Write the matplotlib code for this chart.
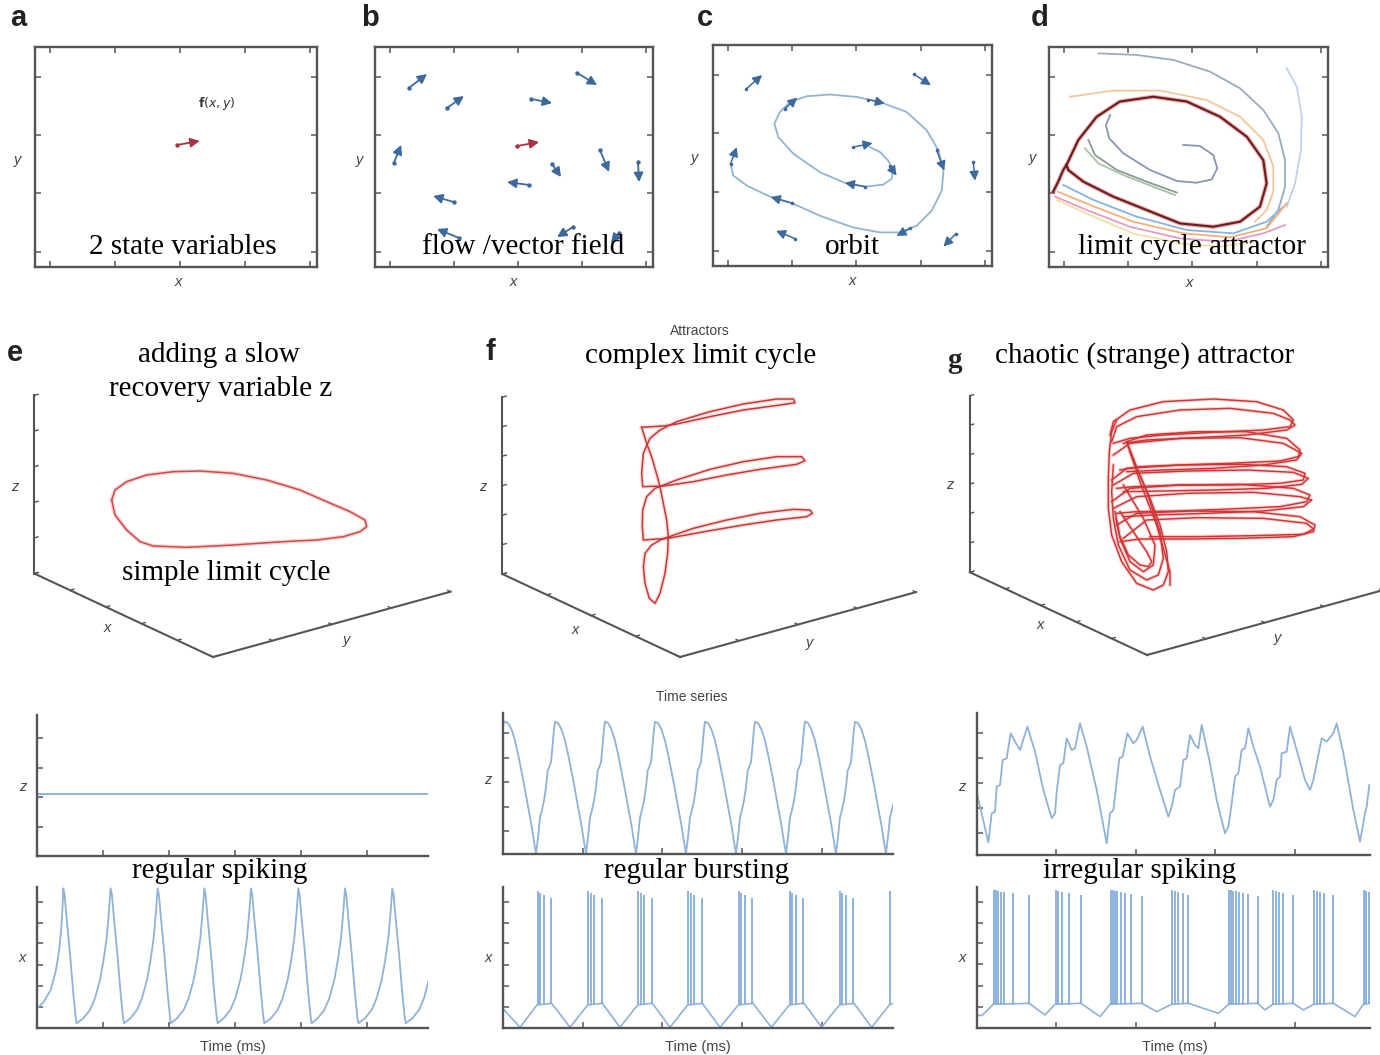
import numpy as np
import matplotlib
matplotlib.use('Agg')
import matplotlib.pyplot as plt

W, H = 1380, 1055
fig = plt.figure(figsize=(13.8, 10.55), dpi=100)

SERIF = 'Liberation Serif'
SANS = 'Liberation Sans'
AXC = '#555555'
TXT = '#444444'
BLUE_ARROW = '#3d6a9e'
RED_ARROW = '#a8323f'
TS_BLUE = '#8fb2d8'

# ======================= DATA =======================
# ---- panel a (phase plane, 0-100 units) ----
a_tail = (50.5, 55.5)
a_head = (58.4, 57.3)

# ---- panel b (vector field) ----
b_tail_x = [12.2, 25.9, 56.1, 72.7, 6.8, 63.7, 80.9, 94.6, 55.4, 28.4, 30.2, 71.2, 87.8]
b_tail_y = [81.4, 72.3, 76.4, 88.2, 47.3, 46.8, 53.2, 47.7, 37.3, 29.5, 13.2, 18.2, 15.5]
b_head_x = [18.7, 32.0, 63.7, 79.9, 9.4, 66.9, 84.2, 95.0, 47.5, 20.9, 22.3, 65.5, 84.9]
b_head_y = [87.7, 77.7, 74.5, 82.7, 55.5, 40.9, 43.2, 38.6, 38.6, 32.3, 17.3, 13.6, 10.9]
b_red_tail = (51.1, 55.0)
b_red_head = (59.0, 56.8)

# ---- panel c (orbit) ----
c_orbit_x = [56.3, 59.9, 62.8, 64.6, 64.0, 61.0, 54.5, 47.3, 38.4, 28.8, 23.4, 22.0, 24.0, 27.6,
             33.6, 41.9, 51.5, 59.9, 69.4, 76.6, 80.8, 82.6, 82.0, 78.4, 73.0, 67.0, 59.9, 50.3,
             38.4, 28.2, 20.4, 12.1, 7.3, 6.3]
c_orbit_y = [53.8, 51.5, 47.7, 43.2, 39.4, 36.8, 35.9, 37.6, 42.4, 50.8, 58.3, 64.4, 69.7, 74.2,
             76.8, 77.6, 76.5, 74.2, 69.7, 61.4, 52.3, 43.2, 34.1, 25.0, 18.2, 15.2, 15.2, 17.4,
             22.7, 28.5, 31.4, 36.4, 40.9, 46.2]
c_tail_x = [11.8, 72.0, 6.3, 93.3, 29.4, 87.1, 28.2, 54.5, 25.8, 55.7, 80.2, 70.6, 63.4, 50.3]
c_tail_y = [80.0, 86.8, 46.2, 47.0, 12.4, 14.7, 28.5, 35.9, 71.2, 75.3, 52.3, 17.0, 45.2, 53.8]
c_head_x = [17.6, 78.1, 8.5, 93.9, 22.6, 82.6, 20.7, 47.3, 30.2, 61.6, 82.9, 65.8, 65.8, 57.2]
c_head_y = [86.4, 81.8, 53.8, 38.6, 15.9, 8.8, 31.2, 37.6, 76.2, 73.5, 43.2, 13.6, 40.9, 55.6]

# ---- panel d (limit cycle attractor): trajectories ----
d_cycle_x = [1.5, 3.3, 5.1, 6.3, 10.5, 17.1, 25.4, 37.4, 49.4, 61.3, 70.9, 76.8, 78.0, 75.6, 68.5,
             58.9, 47.0, 35.0, 23.0, 12.3, 6.9, 6.3]
d_cycle_y = [34.2, 38.8, 44.1, 46.4, 57.7, 68.3, 75.2, 77.4, 75.2, 68.3, 59.2, 48.6, 38.0, 27.4, 20.6,
             18.3, 19.8, 25.9, 32.0, 38.8, 44.1, 46.4]
d_traj_x = [
    [48.1, 54.1, 58.9, 60.3, 58.3, 52.9, 45.8, 36.2, 26.6, 21.6, 20.4, 21.9],
    [14.1, 16.5, 24.3, 35.0, 45.8],
    [12.9, 17.7, 26.6, 37.4, 45.2],
    [17.7, 31.4, 44.6, 57.7, 68.5, 76.8, 82.2, 84.6, 84.6, 82.2, 78.0],
    [85.2, 88.8, 90.6, 90.3, 88.2, 85.2],
    [7.5, 23.0, 39.8, 56.5, 68.5, 76.8, 80.4, 80.4, 78.0, 73.8],
    [2.2, 13.5, 29.0, 47.0, 63.7, 76.8, 84.6],
    [5.1, 15.9, 31.4, 49.4, 66.1, 78.0, 84.0],
    [3.3, 14.7, 30.2, 48.1, 64.9, 78.0, 85.2],
    [2.8, 14.7, 30.2, 47.0, 61.3, 73.2],
]
d_traj_y = [
    [55.5, 55.0, 50.9, 44.8, 39.8, 38.3, 39.1, 44.1, 51.7, 58.5, 64.5, 69.1],
    [57.7, 50.9, 44.1, 38.8, 33.8],
    [53.9, 47.1, 41.8, 36.5, 32.7],
    [97.1, 96.4, 94.1, 88.8, 81.2, 71.4, 60.8, 48.6, 36.5, 25.9, 18.3],
    [90.3, 82.0, 68.3, 53.2, 38.0, 27.4],
    [77.4, 80.2, 80.2, 75.9, 68.3, 57.7, 45.6, 34.2, 25.9, 20.6],
    [32.0, 25.9, 18.3, 13.0, 11.5, 15.3, 19.1],
    [37.3, 30.5, 22.9, 16.8, 15.3, 20.6, 27.4],
    [34.2, 28.2, 20.6, 15.3, 13.5, 17.6, 29.0],
    [30.5, 23.6, 15.2, 10.8, 9.2, 11.5],
]
d_traj_colors = ['#8797b0', '#8c9a94', '#a9c2a6', '#9aabbf', '#bcd3ea', '#f2c79a',
                 '#e39ac6', '#86b3e2', '#f1b27a', '#efe0a2']

# ---- panel e (projected simple limit cycle) ----
e_cycle_x = [335, 345, 380, 440, 520, 600, 700, 800, 900, 980, 1050, 1095, 1100, 1080, 1030, 950,
             850, 700, 560, 460, 420, 380, 345, 335]
e_cycle_y = [510, 540, 565, 585, 595, 597, 590, 570, 540, 505, 475, 450, 430, 415, 400, 390,
             385, 375, 368, 372, 385, 420, 465, 510]

# ---- panel f (projected complex limit cycle) ----
f_cycle_x = [545, 560, 578, 592, 600, 610, 620, 625, 623, 615, 600, 585,
             568, 555, 550, 555, 575, 605,
             700, 800, 900, 1000, 1050, 1057, 1040, 950, 850, 750, 650, 625, 550,
             547, 548, 560, 585,
             650, 750, 850, 950, 1025, 1035, 1010, 900, 800, 700, 610, 548,
             545, 550, 570, 600,
             650, 750, 850, 950, 1000, 1005, 960, 850, 750, 650, 610, 545]
f_cycle_y = [728, 680, 630, 580, 550, 500, 450, 400, 350, 290, 230, 200,
             215, 260, 310, 350, 375, 392,
             425, 450, 470, 482, 480, 470, 460, 450, 435, 418, 400, 395, 390,
             430, 480, 520, 545,
             570, 602, 625, 640, 640, 628, 617, 602, 585, 565, 552, 550,
             590, 650, 695, 720,
             745, 775, 798, 813, 813, 802, 795, 780, 760, 738, 732, 728]

# ---- panel g (projected chaotic attractor): loops ----
g_loop_x = [
    [90, 100, 150, 250, 400, 530, 610, 640, 630, 550, 400, 250, 150, 100],
    [95, 110, 170, 300, 450, 580, 630, 645, 620, 500, 350, 200, 130],
    [140, 200, 350, 500, 620, 660, 655, 600, 450, 300, 180, 120],
    [100, 150, 300, 480, 610, 665, 650, 550, 400, 250, 140],
    [95, 140, 300, 480, 620, 675, 670, 600, 450, 300, 160, 110],
    [100, 160, 320, 500, 640, 685, 665, 560, 400, 250, 130],
    [95, 150, 300, 480, 640, 690, 680, 600, 450, 300, 170, 110],
    [100, 170, 320, 520, 660, 695, 670, 550, 380, 220, 130],
    [110, 170, 330, 520, 660, 705, 700, 640, 480, 320, 180, 120],
    [130, 200, 350, 550, 680, 700, 670, 520, 350, 210],
    [140, 175, 210, 240, 260, 265, 250, 220, 170, 125, 95, 85, 85, 88, 95, 110],
    [150, 200, 240, 250, 235, 200, 150, 115, 100, 95, 100],
    [130, 190, 225, 220, 190, 150, 120, 105],
    [120, 160, 200, 215, 205, 180, 145, 118, 108],
    [140, 180, 230, 270, 270],
]
g_loop_y = [
    [480, 520, 555, 580, 588, 580, 555, 525, 505, 495, 488, 480, 470, 455],
    [460, 505, 535, 555, 560, 545, 525, 510, 495, 480, 472, 465, 455],
    [460, 480, 490, 490, 470, 435, 415, 402, 395, 390, 385, 375],
    [420, 455, 470, 472, 455, 425, 405, 390, 380, 375, 370],
    [345, 380, 390, 392, 385, 365, 345, 335, 330, 330, 325, 320],
    [330, 365, 372, 375, 368, 350, 332, 320, 315, 312, 310],
    [280, 320, 330, 332, 320, 300, 280, 265, 258, 252, 250, 245],
    [260, 295, 305, 308, 295, 285, 265, 252, 245, 240, 235],
    [210, 245, 252, 250, 235, 210, 190, 175, 170, 168, 168, 160],
    [170, 225, 232, 230, 215, 198, 182, 178, 175, 175],
    [460, 370, 290, 210, 130, 70, 30, 15, 35, 100, 180, 260, 350, 430, 490, 525],
    [430, 310, 190, 110, 60, 45, 75, 150, 230, 310, 390],
    [330, 230, 150, 90, 70, 100, 170, 250],
    [250, 190, 130, 100, 85, 90, 120, 180, 230],
    [460, 340, 210, 70, 30],
]

# ---- time series, left column (regular spiking) ----
rs_t = [0, 20, 40, 55, 65, 72, 76, 78,
        82, 88, 98, 108, 115, 118, 138, 158, 173, 188, 198, 208, 215, 220,
        224, 230, 240, 250, 257, 260, 279, 299, 314, 329, 339, 349, 356, 361,
        365, 371, 381, 391, 398, 401, 419, 439, 454, 469, 479, 489, 496, 501,
        505, 511, 521, 531, 538, 541, 559, 579, 594, 609, 619, 629, 636, 641,
        645, 651, 661, 671, 678, 681, 701, 721, 736, 751, 761, 771, 778, 783,
        787, 793, 803, 813, 820, 823, 841, 861, 876, 891, 901, 911, 918, 923,
        927, 933, 943, 953, 960, 963, 983, 1003, 1018, 1033, 1043, 1053, 1060, 1065,
        1069, 1075, 1085, 1095, 1102, 1105, 1125, 1145, 1160, 1173]
rs_x = [60, 80, 115, 170, 230, 300, 370, 420,
        400, 330, 225, 105, 35, 15, 30, 55, 90, 145, 200, 270, 350, 420,
        400, 330, 225, 105, 35, 15, 30, 55, 90, 145, 200, 270, 350, 420,
        400, 330, 225, 105, 35, 15, 30, 55, 90, 145, 200, 270, 350, 420,
        400, 330, 225, 105, 35, 15, 30, 55, 90, 145, 200, 270, 350, 420,
        400, 330, 225, 105, 35, 15, 30, 55, 90, 145, 200, 270, 350, 420,
        400, 330, 225, 105, 35, 15, 30, 55, 90, 145, 200, 270, 350, 420,
        400, 330, 225, 105, 35, 15, 30, 55, 90, 145, 200, 270, 350, 420,
        400, 330, 225, 105, 35, 15, 30, 55, 90, 140]
rs_z_t = [0, 1173]
rs_z = [186, 186]

# ---- time series, middle column (regular bursting) ----
rb_z_t = [0, 7, 17, 27, 37, 47, 57, 67, 77, 87, 95, 100,
          106, 112, 117, 124, 130, 135, 140, 145, 150, 154, 157,
          167, 177, 187, 197, 207, 217, 227, 237, 245, 250,
          256, 262, 267, 274, 280, 285, 290, 295, 300, 304, 307,
          317, 327, 337, 347, 357, 367, 377, 387, 395, 400,
          406, 412, 417, 424, 430, 435, 440, 445, 450, 454, 457,
          467, 477, 487, 497, 507, 517, 527, 537, 545, 550,
          556, 562, 567, 574, 580, 585, 590, 595, 600, 604, 607,
          617, 627, 637, 647, 657, 667, 677, 687, 695, 700,
          706, 712, 717, 724, 730, 735, 740, 745, 750, 754, 757,
          767, 777, 787, 797, 807, 817, 827, 837, 845, 850,
          856, 862, 867, 874, 880, 885, 890, 895, 900, 904, 907,
          917, 927, 937, 947, 957, 967, 977, 987, 995, 1000,
          1006, 1012, 1017, 1024, 1030, 1035, 1040, 1045, 1050, 1054, 1057,
          1067, 1077, 1087, 1097, 1107, 1117, 1127, 1137, 1145, 1150,
          1156, 1162, 1167, 1172]
rb_z = [388, 397, 392, 372, 340, 295, 245, 192, 137, 82, 30, 2,
        50, 110, 128, 160, 200, 250, 262, 275, 330, 375, 397,
        392, 372, 340, 295, 245, 192, 137, 82, 30, 2,
        50, 110, 128, 160, 200, 250, 262, 275, 330, 375, 397,
        392, 372, 340, 295, 245, 192, 137, 82, 30, 2,
        50, 110, 128, 160, 200, 250, 262, 275, 330, 375, 397,
        392, 372, 340, 295, 245, 192, 137, 82, 30, 2,
        50, 110, 128, 160, 200, 250, 262, 275, 330, 375, 397,
        392, 372, 340, 295, 245, 192, 137, 82, 30, 2,
        50, 110, 128, 160, 200, 250, 262, 275, 330, 375, 397,
        392, 372, 340, 295, 245, 192, 137, 82, 30, 2,
        50, 110, 128, 160, 200, 250, 262, 275, 330, 375, 397,
        392, 372, 340, 295, 245, 192, 137, 82, 30, 2,
        50, 110, 128, 160, 200, 250, 262, 275, 330, 375, 397,
        392, 372, 340, 295, 245, 192, 137, 82, 30, 2,
        50, 110, 128, 150]
rb_slow_t = [0, 52, 103, 147, 202, 255, 299, 352, 405, 449, 502, 555, 599, 652, 707,
             751, 806, 860, 904, 957, 1010, 1054, 1107, 1160, 1172]
rb_slow_x = [60, 3, 70, 75, 3, 70, 75, 3, 70, 75, 3, 70, 75, 3, 70,
             75, 3, 70, 75, 3, 70, 75, 3, 70, 75]
rb_spike_t = [105, 112, 123, 145, 257, 264, 275, 297, 407, 414, 425, 447, 557, 564, 575, 597,
              709, 716, 727, 749, 862, 869, 880, 902, 1012, 1019, 1030, 1052, 1162]
rb_spike_x = [413, 407, 400, 390, 413, 407, 400, 390, 413, 407, 400, 390, 413, 407, 400, 390,
              413, 407, 400, 390, 413, 407, 400, 390, 413, 407, 400, 390, 413]

# ---- time series, right column (irregular spiking) ----
ir_z_t = [2, 35, 45, 55, 60, 70, 78, 90, 102, 115, 130, 152, 175, 200, 225, 235, 240, 250, 260,
          270, 285, 295, 310, 330, 360, 390, 400, 410, 428, 438, 452, 470, 480, 498, 520, 550,
          575, 585, 595, 610, 620, 630, 640, 655, 665, 675, 700, 720, 745, 755, 765, 775, 785,
          795, 805, 815, 830, 850, 880, 890, 900, 910, 915, 930, 940, 960, 985, 1000, 1010,
          1020, 1035, 1050, 1070, 1080, 1100, 1130, 1150, 1165, 1170, 1178]
ir_z = [180, 38, 125, 130, 205, 210, 285, 290, 365, 340, 315, 385, 310, 195, 110, 125, 190, 270,
        275, 350, 315, 320, 395, 325, 195, 35, 125, 135, 290, 295, 365, 335, 345, 385, 295, 195,
        115, 145, 195, 205, 285, 290, 360, 330, 320, 390, 275, 165, 65, 85, 155, 235, 245, 315,
        320, 380, 325, 265, 145, 165, 225, 235, 305, 310, 385, 315, 225, 195, 225, 275, 350,
        340, 365, 395, 305, 135, 40, 125, 145, 210]
ir_slow_t = [0, 15, 50, 157, 205, 235, 313, 370, 400, 495, 540, 585, 635, 725, 756, 843, 865,
             888, 950, 980, 1011, 1070, 1135, 1160, 1180]
ir_slow_x = [40, 38, 72, 75, 40, 72, 75, 35, 72, 75, 50, 72, 75, 45, 72, 75, 55, 72, 75, 55,
             72, 75, 35, 72, 75]
ir_spike_t = [53, 59, 65, 73, 83, 110, 157, 237, 244, 256, 278, 313,
              402, 408, 414, 422, 432, 445, 462, 495, 587, 595, 605, 618, 635,
              758, 763, 770, 778, 788, 800, 815, 843, 890, 897, 907, 918, 950,
              1013, 1020, 1030, 1043, 1070, 1162, 1168, 1176]
ir_spike_x = [415, 415, 412, 410, 408, 405, 400, 415, 413, 410, 405, 400,
              415, 415, 413, 412, 410, 405, 402, 398, 415, 413, 410, 405, 400,
              415, 415, 413, 412, 410, 405, 402, 398, 415, 413, 410, 405, 400,
              415, 413, 410, 405, 400, 415, 413, 410]

# ======================= HELPERS =======================
def rect(l, t, r, b):
    return [l / W, 1 - b / H, (r - l) / W, (b - t) / H]


def ftext(x, y, s, **kw):
    kw.setdefault('ha', 'center')
    kw.setdefault('va', 'center')
    fig.text(x / W, 1 - y / H, s, **kw)


def serif(x, y, s):
    ftext(x, y, s, family=SERIF, fontsize=21, color='black')


def small(x, y, s, italic=False, size=10.5):
    ftext(x, y, s, family=SANS, fontsize=size, color=TXT,
          style='italic' if italic else 'normal')


def letter(x, y, s, family=SANS):
    ftext(x, y, s, family=family, fontsize=21, weight='bold', color='#222222')


phase_xticks = [5.3, 28.4, 51.4, 74.5, 97.5]
phase_yticks = [6.8, 33.6, 60.0, 86.4]


def phase_axes(l, t, r, b):
    ax = fig.add_axes(rect(l, t, r, b))
    ax.set_xlim(0, 100)
    ax.set_ylim(0, 100)
    ax.set_xticks(phase_xticks)
    ax.set_yticks(phase_yticks)
    ax.tick_params(direction='in', top=True, right=True, length=4, width=1.1, color=AXC,
                   labelbottom=False, labelleft=False)
    for s in ax.spines.values():
        s.set_color(AXC)
        s.set_linewidth(1.7)
    return ax


def arrow(ax, tail, head, color, lw=1.3, dot=3.2):
    ax.annotate('', xy=head, xytext=tail,
                arrowprops=dict(arrowstyle='-|>,head_length=0.55,head_width=0.28', color=color,
                                lw=lw, shrinkA=0, shrinkB=0))
    ax.plot([tail[0]], [tail[1]], 'o', color=color, ms=dot, mec='none')


def overlay(l, t, r, b, xmax, ymax):
    ax = fig.add_axes(rect(l, t, r, b))
    ax.set_xlim(0, xmax)
    ax.set_ylim(0, ymax)
    ax.axis('off')
    ax.patch.set_alpha(0)
    return ax


def axes3d(target_left, target_front, xt, yt, zt):
    S = 300.0
    ax = fig.add_axes([0.3, 0.3, S / W, S / H], projection='3d', proj_type='ortho')
    ax.view_init(elev=21, azim=-37.5)
    ax.set_box_aspect((1, 1.02, 0.65))
    ax.set_xlim(0, 1)
    ax.set_ylim(0, 1)
    ax.set_zlim(0, 1)
    ax.set_xticks(xt)
    ax.set_yticks(yt)
    ax.set_zticks(zt)
    ax.set_xticklabels([])
    ax.set_yticklabels([])
    ax.set_zticklabels([])
    try:
        ax.zaxis.set_ticks_position('lower')
    except Exception:
        pass
    ax.grid(False)
    ax.patch.set_alpha(0)
    for axis in (ax.xaxis, ax.yaxis, ax.zaxis):
        axis.set_pane_color((1, 1, 1, 0))
        axis.pane.set_edgecolor((1, 1, 1, 0))
        axis.line.set_color(AXC)
        axis.line.set_linewidth(1.5)
        axis._axinfo['tick']['inward_factor'] = 0.0
        axis._axinfo['tick']['outward_factor'] = 0.2
        axis._axinfo['tick']['linewidth'] = {True: 1.0, False: 0.5}
    ax.tick_params(colors=AXC)
    fig.canvas.draw()
    M = ax.get_proj()
    vec = np.array([[0.0, 1.0], [0.0, 0.0], [0.0, 0.0], [1.0, 1.0]])
    v = M @ vec
    p2 = np.column_stack([v[0] / v[3], v[1] / v[3]])
    d = ax.transData.transform(p2)
    pos = ax.get_position()
    c = np.array([(pos.x0 + pos.x1) / 2 * W, (pos.y0 + pos.y1) / 2 * H])
    tl = np.array([target_left[0], H - target_left[1]])
    tf = np.array([target_front[0], H - target_front[1]])
    s = np.linalg.norm(tf - tl) / np.linalg.norm(d[1] - d[0])
    newS = pos.width * W * s
    newc = tf - s * (d[1] - c)
    ax.set_position([(newc[0] - newS / 2) / W, (newc[1] - newS / 2) / H, newS / W, newS / H])
    return ax


def ts_axes(l, t, r, b, xmax, ymax, xticks, yticks):
    ax = fig.add_axes(rect(l, t, r, b))
    ax.set_xlim(0, xmax)
    ax.set_ylim(0, ymax)
    ax.spines['top'].set_visible(False)
    ax.spines['right'].set_visible(False)
    for s in ('left', 'bottom'):
        ax.spines[s].set_color(AXC)
        ax.spines[s].set_linewidth(1.7)
    ax.set_xticks(xticks)
    ax.set_yticks(yticks)
    ax.tick_params(direction='in', length=4, width=1.1, color=AXC,
                   labelbottom=False, labelleft=False)
    ax.patch.set_alpha(0)
    return ax


# ======================= TOP ROW =======================
axa = phase_axes(35, 47, 317, 267)
arrow(axa, a_tail, a_head, RED_ARROW)
axa.text(64.4, 74.5, r'$\mathbf{f}(x,y)$', ha='center', va='center', fontsize=9, color='#333333')

axb = phase_axes(375, 47, 653, 267)
for tx, ty, hx, hy in zip(b_tail_x, b_tail_y, b_head_x, b_head_y):
    arrow(axb, (tx, ty), (hx, hy), BLUE_ARROW)
arrow(axb, b_red_tail, b_red_head, RED_ARROW)

axc = phase_axes(713, 45, 992, 266)
axc.plot(c_orbit_x, c_orbit_y, color='#93b3d3', lw=1.3)
for tx, ty, hx, hy in zip(c_tail_x, c_tail_y, c_head_x, c_head_y):
    arrow(axc, (tx, ty), (hx, hy), BLUE_ARROW, lw=1.1, dot=2.6)

axd = phase_axes(1049, 47, 1328, 267)
for xs, ys, col in zip(d_traj_x, d_traj_y, d_traj_colors):
    axd.plot(xs, ys, color=col, lw=1.3)
axd.plot(d_cycle_x, d_cycle_y, color='#e0706a', lw=3.2, alpha=0.5)
axd.plot(d_cycle_x, d_cycle_y, color='#6e1e22', lw=1.6)

for (x, y) in [(178, 282), (513, 282), (852, 281), (1189, 283)]:
    small(x, y, 'x', italic=True)
for (x, y) in [(18, 160), (360, 160), (695, 158), (1033, 158)]:
    small(x, y, 'y', italic=True)

letter(18, 18, 'a')
letter(370, 18, 'b')
letter(705, 18, 'c')
letter(1040, 18, 'd')

serif(183, 247, '2 state variables')
serif(523, 247, 'flow /vector field')
serif(852, 247, 'orbit')
serif(1192, 247, 'limit cycle attractor')

# ======================= 3D ROW =======================
axes3d((35, 572), (213, 657), [0, .2, .4, .6, .8, 1], [0, .25, .5, .75, 1],
       [0, .2, .4, .6, .8, 1])
axes3d((503, 573), (680, 657), [0, .25, .5, .75, 1], [0, .25, .5, .75, 1],
       [0, 1 / 6, 2 / 6, .5, 4 / 6, 5 / 6, 1])
axes3d((970, 572), (1147, 655), [0, .2, .4, .6, .8, 1], [0, .25, .5, .75, 1],
       [0, 1 / 6, 2 / 6, .5, 4 / 6, 5 / 6, 1])

axe = overlay(0, 300, 460, 670, 1380, 1110)
axe.plot(e_cycle_x, e_cycle_y, color='#f2b8b8', lw=3.0, alpha=0.6)
axe.plot(e_cycle_x, e_cycle_y, color='#cf4a4a', lw=1.1)

axf = overlay(460, 300, 920, 670, 1380, 1110)
axf.plot(f_cycle_x, f_cycle_y, color='#f2b8b8', lw=3.0, alpha=0.5)
axf.plot(f_cycle_x, f_cycle_y, color='#c63a3a', lw=1.1)

axg = overlay(1080, 385, 1340, 595, 780, 630)
for xs, ys in zip(g_loop_x, g_loop_y):
    axg.plot(xs, ys, color='#f0a0a0', lw=2.6, alpha=0.45)
for xs, ys in zip(g_loop_x, g_loop_y):
    axg.plot(xs, ys, color='#d03434', lw=1.05)

small(15, 487, 'z', italic=True)
small(107, 628, 'x', italic=True)
small(347, 640, 'y', italic=True)
small(483, 487, 'z', italic=True)
small(575, 630, 'x', italic=True)
small(810, 643, 'y', italic=True)
small(950, 485, 'z', italic=True)
small(1040, 625, 'x', italic=True)
small(1278, 638, 'y', italic=True)

letter(15, 353, 'e')
letter(490, 352, 'f')
letter(955, 360, 'g', family=SERIF)
serif(219, 355, 'adding a slow')
serif(221, 389, 'recovery variable z')
serif(226, 573, 'simple limit cycle')
serif(701, 356, 'complex limit cycle')
serif(1145, 356, 'chaotic (strange) attractor')
small(700, 331, 'Attractors', size=10)

# ======================= TIME SERIES =======================
# left column
az1 = ts_axes(37.3, 715, 428.3, 856, 1173, 423, [198, 396, 593, 791, 988], [88, 178, 263, 353])
az1.plot(rs_z_t, rs_z, color=TS_BLUE, lw=1.4)
ax1 = ts_axes(37.3, 886.7, 428.3, 1028.3, 1173, 425, [198, 396, 593, 791, 988],
              [65, 127, 190, 255, 315, 380])
ax1.plot(rs_t, rs_x, color=TS_BLUE, lw=1.3)

# middle column
az2 = ts_axes(502.7, 713.3, 893.3, 854, 1172, 422, [240, 477, 717, 957], [70, 142, 215, 287, 362])
az2.plot(rb_z_t, rb_z, color=TS_BLUE, lw=1.3)
ax2 = ts_axes(502.7, 886.7, 893.3, 1028.3, 1172, 425, [240, 477, 717, 957],
              [65, 127, 190, 255, 317, 380])
ax2.plot(rb_slow_t, rb_slow_x, color=TS_BLUE, lw=1.2)
ax2.vlines(rb_spike_t, 72, rb_spike_x, color='#7aa6d8', lw=1.2)

# right column
az3 = ts_axes(976.7, 713.3, 1370, 855, 1180, 425, [238, 478, 715, 955], [67, 142, 217, 290, 365])
az3.plot(ir_z_t, ir_z, color=TS_BLUE, lw=1.3)
ax3 = ts_axes(976.7, 886.7, 1370, 1028.3, 1180, 425, [238, 478, 715, 955],
              [65, 127, 192, 255, 317, 380])
ax3.plot(ir_slow_t, ir_slow_x, color=TS_BLUE, lw=1.2)
ax3.vlines(ir_spike_t, 72, ir_spike_x, color='#7aa6d8', lw=1.2)

small(23, 787, 'z', italic=True)
small(22, 958, 'x', italic=True)
small(488, 780, 'z', italic=True)
small(488, 958, 'x', italic=True)
small(962, 787, 'z', italic=True)
small(962, 958, 'x', italic=True)
small(233, 1047, 'Time (ms)', size=10.5)
small(698, 1047, 'Time (ms)', size=10.5)
small(1175, 1047, 'Time (ms)', size=10.5)
small(692, 697, 'Time series', size=10)

serif(220, 871, 'regular spiking')
serif(697, 871, 'regular bursting')
serif(1140, 871, 'irregular spiking')

fig.savefig('out.png', dpi=100, facecolor='white')
